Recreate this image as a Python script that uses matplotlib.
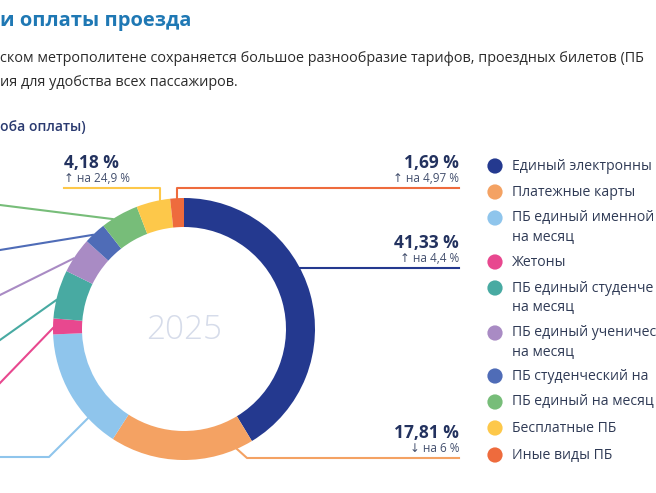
import numpy as np
import matplotlib.pyplot as plt

plt.rcParams['font.family'] = ['Open Sans', 'DejaVu Sans']

# данные (доли способов оплаты, 2025); подписи легенды обрезаны краем кадра, как на исходнике
labels = [["Единый электронны"], ["Платежные карты"], ["ПБ единый именной", "на месяц"],
          ["Жетоны"], ["ПБ единый студенче", "на месяц"], ["ПБ единый ученичес", "на месяц"],
          ["ПБ студенческий на"], ["ПБ единый на месяц"], ["Бесплатные ПБ"], ["Иные виды ПБ"]]
shares = [41.33, 17.81, 15.20, 1.95, 6.00, 4.40, 2.75, 4.69, 4.18, 1.69]
colors = ["#24398f", "#f4a263", "#8fc5ec", "#e8488f", "#48aaa2", "#a98bc4",
          "#4f6cb7", "#77bd79", "#fdc84a", "#ee6b3d"]

# подписи с изменением
callout_idx = [0, 1, 8, 9]
callout_pct = ["41,33 %", "17,81 %", "4,18 %", "1,69 %"]
callout_chg = ["↑ на 4,4 %", "↓ на 6 %", "↑ на 24,9 %", "↑ на 4,97 %"]

W, H = 656, 493
fig = plt.figure(figsize=(W / 100, H / 100), dpi=100)
ax = fig.add_axes([0, 0, 1, 1])

cx, cy, R, ring = 184, 329, 131, 29
wedges, _ = ax.pie(shares, colors=colors, startangle=-90, counterclock=True,
                   center=(cx, cy), radius=R,
                   wedgeprops=dict(width=ring, linewidth=0))
ax.set_xlim(0, W)
ax.set_ylim(H, 0)
ax.set_aspect('equal')
ax.axis('off')

ax.text(cx, cy + 1, "2025", ha='center', va='center', fontsize=24, color="#d6dcea",
        fontweight='light')

# точка привязки выноски на внешнем крае кольца
edges = np.concatenate([[0], np.cumsum(shares)]) / 100 * 360


def anchor(i, frac):
    phi = np.radians(edges[i] + frac * (edges[i + 1] - edges[i]) - 90)
    return cx + R * np.cos(phi), cy + R * np.sin(phi)


navy = "#23325f"
grey = "#44506e"

# выноски справа и сверху
x0, y0 = anchor(9, 0.5)
ax.plot([x0, x0, 459], [y0, 188, 188], color=colors[9], lw=1.5)
x0, y0 = anchor(8, 0.7)
ax.plot([x0, x0, 64], [y0, 188, 188], color=colors[8], lw=1.5)
x0, y0 = anchor(0, 0.42)
ax.plot([x0, 459], [y0, y0], color=colors[0], lw=1.5)
x0, y0 = anchor(1, 0.116)
ax.plot([x0, 247, 459], [y0, 458, 458], color=colors[1], lw=1.5)

pos = {0: (459, 243, 'right'), 1: (459, 433, 'right'),
       8: (64, 163, 'left'), 9: (459, 163, 'right')}
for i, p, c in zip(callout_idx, callout_pct, callout_chg):
    x, y, ha = pos[i]
    ax.text(x, y, p, ha=ha, va='center', fontsize=12.5, fontweight='bold', color=navy)
    ax.text(x, y + 15, c, ha=ha, va='center', fontsize=8.5, color=grey)

# выноски слева (уходят за край)
x0, y0 = anchor(2, 0.26)
ax.plot([x0, 49, -5], [y0, 457, 457], color=colors[2], lw=1.5)
left_ends = {3: (0, 383), 4: (0, 340), 5: (0, 295), 6: (0, 250), 7: (0, 205)}
left_frac = {3: 0.4, 4: 0.375, 5: 0.4, 6: 0.39, 7: 0.3}
for i, (xe, ye) in left_ends.items():
    x0, y0 = anchor(i, left_frac[i])
    ax.plot([x0, xe], [y0, ye], color=colors[i], lw=1.5)

# легенда
leg_y = [166, 192, 218, 262, 288, 333, 376, 402, 428, 455]
for lines, col, y in zip(labels, colors, leg_y):
    ax.scatter([495], [y], s=120, color=col, edgecolors='none')
    for k, line in enumerate(lines):
        ax.text(512, y + 19 * k, line, ha='left', va='center', fontsize=10.1,
                color="#2f3a55")

# шапка
ax.text(0, 21, "и оплаты проезда", ha='left', va='center', fontsize=14.5,
        fontweight='bold', color="#1f78b4")
ax.text(0, 58, "ском метрополитене сохраняется большое разнообразие тарифов, проездных билетов (ПБ",
        ha='left', va='center', fontsize=10.4, color="#2b2b2b")
ax.text(0, 82, "ия для удобства всех пассажиров.", ha='left', va='center',
        fontsize=10.4, color="#2b2b2b")
ax.text(0, 127, "оба оплаты)", ha='left', va='center', fontsize=10,
        fontweight='semibold', color="#2a3a70")

fig.savefig("out.png", dpi=100)
